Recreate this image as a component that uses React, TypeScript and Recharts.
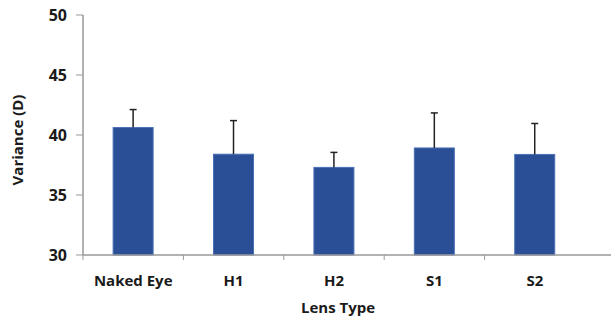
import React from 'react';
import { BarChart, Bar, XAxis, YAxis } from 'recharts';

const categories = ['Naked Eye', 'H1', 'H2', 'S1', 'S2'];
const means = [40.62, 38.4, 37.3, 38.92, 38.38];
const errors = [1.5, 2.8, 1.25, 2.92, 2.58];
const yTicks = [30, 35, 40, 45, 50];
const yMin = 30;
const yMax = 50;

const data = categories.map((name, i) => ({ name, mean: means[i], err: errors[i] }));

const FONT = '"Open Sans", "DejaVu Sans", sans-serif';

const BarWithError = (props: any) => {
  const { x, y, width, height, payload } = props;
  const unit = height / (payload.mean - yMin);
  const top = y - payload.err * unit;
  const cx = x + width / 2;
  return (
    <g>
      <rect x={x} y={y} width={width} height={height} fill="#2A4F96" stroke="#4A70B6" strokeWidth={1} />
      <line x1={cx} x2={cx} y1={y} y2={top} stroke="#222" strokeWidth={1.5} />
      <line x1={cx - 3.5} x2={cx + 3.5} y1={top} y2={top} stroke="#222" strokeWidth={1.5} />
    </g>
  );
};

const XTick = (props: any) => {
  const { x, y, payload } = props;
  const off = payload && payload.offset ? payload.offset : 50;
  return (
    <g>
      <line x1={x - off} x2={x - off} y1={y} y2={y + 5} stroke="#999" strokeWidth={1} />
      <text x={x} y={y + 25} textAnchor="middle" dominantBaseline="central" fontFamily={FONT} fontWeight="bold" fontSize={15} fill="#1a1a1a">
        {payload.value}
      </text>
    </g>
  );
};

export default function App() {
  return (
    <div>
      <style>{'body{margin:0;background:#fff}'}</style>
      <BarChart width={611} height={317} data={data} margin={{ top: 15, right: 0, bottom: 0, left: 0 }} barCategoryGap="30%">
        <XAxis
          dataKey="name"
          height={62}
          padding={{ left: 0, right: 26 }}
          tickSize={0}
          tickMargin={0}
          tickLine={false}
          axisLine={{ stroke: '#999', strokeWidth: 1.5 }}
          tick={<XTick />}
          interval={0}
          label={{
            content: (p: any) => (
              <text x={338} y={307} textAnchor="middle" dominantBaseline="central" fontFamily={FONT} fontWeight="bold" fontSize={15} fill="#1a1a1a">
                Lens Type
              </text>
            ),
          }}
        />
        <YAxis
          width={83}
          domain={[yMin, yMax]}
          ticks={yTicks}
          interval={0}
          tickSize={7}
          tickMargin={9}
          tickLine={{ stroke: '#999' }}
          axisLine={{ stroke: '#999', strokeWidth: 1.5 }}
          tick={{ fill: '#1a1a1a', fontSize: 16, fontWeight: 'bold', fontFamily: FONT }}
          label={{
            content: (p: any) => (
              <text x={17} y={140} textAnchor="middle" dominantBaseline="central" transform="rotate(-90 17 140)" fontFamily={FONT} fontWeight="bold" fontSize={15} fill="#1a1a1a">
                Variance (D)
              </text>
            ),
          }}
        />
        <Bar dataKey="mean" shape={<BarWithError />} isAnimationActive={false} />
      </BarChart>
    </div>
  );
}
